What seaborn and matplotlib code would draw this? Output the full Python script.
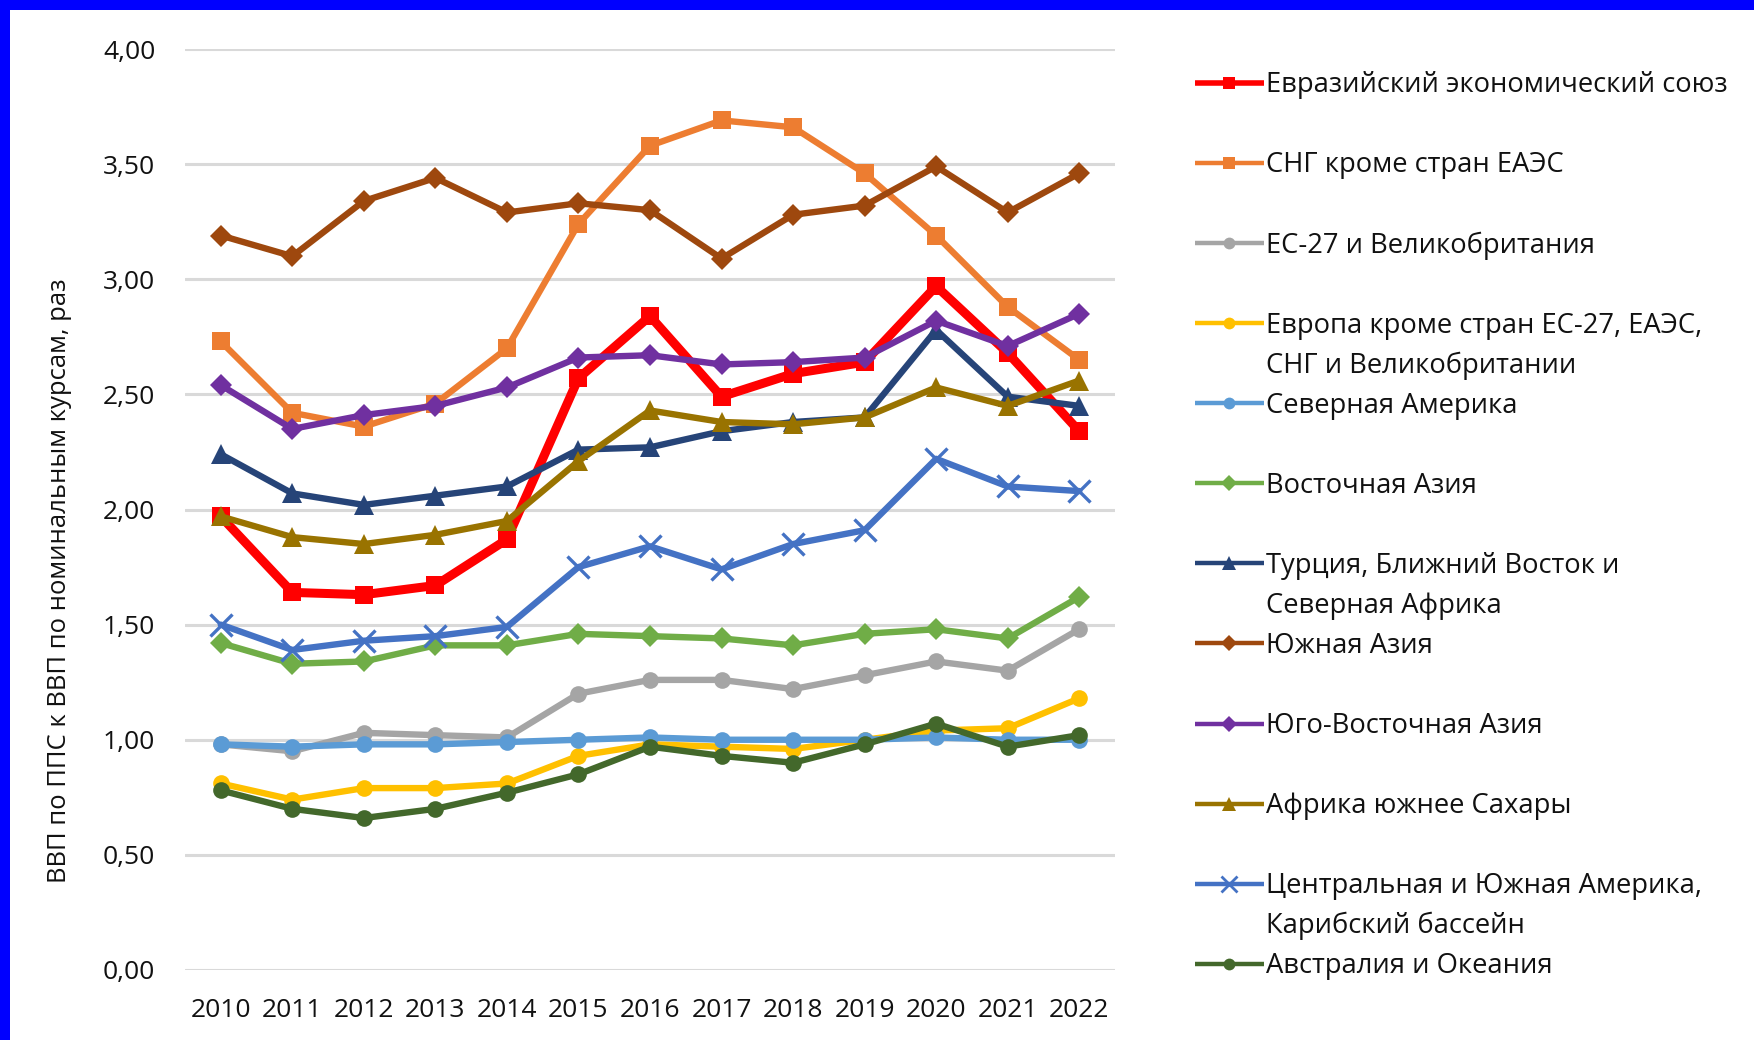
import matplotlib
matplotlib.use("Agg")
import matplotlib.pyplot as plt
import matplotlib.ticker as mticker
from matplotlib.patches import Rectangle
import seaborn as sns
import pandas as pd

# ---- data -------------------------------------------------------------
years = list(range(2010, 2023))

regions = [
    "Евразийский экономический союз",
    "СНГ кроме стран ЕАЭС",
    "ЕС-27 и Великобритания",
    "Европа кроме стран ЕС-27, ЕАЭС,\nСНГ и Великобритании",
    "Северная Америка",
    "Восточная Азия",
    "Турция, Ближний Восток и\nСеверная Африка",
    "Южная Азия",
    "Юго-Восточная Азия",
    "Африка южнее Сахары",
    "Центральная и Южная Америка,\nКарибский бассейн",
    "Австралия и Океания",
]

eaeu = [1.97, 1.64, 1.63, 1.67, 1.87, 2.57, 2.84, 2.49, 2.59, 2.64, 2.97, 2.68, 2.34]
cis_other = [2.73, 2.42, 2.36, 2.46, 2.70, 3.24, 3.58, 3.69, 3.66, 3.46, 3.19, 2.88, 2.65]
eu_uk = [0.98, 0.95, 1.03, 1.02, 1.01, 1.20, 1.26, 1.26, 1.22, 1.28, 1.34, 1.30, 1.48]
europe_other = [0.81, 0.74, 0.79, 0.79, 0.81, 0.93, 0.98, 0.97, 0.96, 1.00, 1.04, 1.05, 1.18]
north_america = [0.98, 0.97, 0.98, 0.98, 0.99, 1.00, 1.01, 1.00, 1.00, 1.00, 1.01, 1.00, 1.00]
east_asia = [1.42, 1.33, 1.34, 1.41, 1.41, 1.46, 1.45, 1.44, 1.41, 1.46, 1.48, 1.44, 1.62]
mena = [2.24, 2.07, 2.02, 2.06, 2.10, 2.26, 2.27, 2.34, 2.38, 2.40, 2.78, 2.49, 2.45]
south_asia = [3.19, 3.10, 3.34, 3.44, 3.29, 3.33, 3.30, 3.09, 3.28, 3.32, 3.49, 3.29, 3.46]
se_asia = [2.54, 2.35, 2.41, 2.45, 2.53, 2.66, 2.67, 2.63, 2.64, 2.66, 2.82, 2.71, 2.85]
africa_ss = [1.97, 1.88, 1.85, 1.89, 1.95, 2.21, 2.43, 2.38, 2.37, 2.40, 2.53, 2.45, 2.56]
latam = [1.50, 1.39, 1.43, 1.45, 1.49, 1.75, 1.84, 1.74, 1.85, 1.91, 2.22, 2.10, 2.08]
oceania = [0.78, 0.70, 0.66, 0.70, 0.77, 0.85, 0.97, 0.93, 0.90, 0.98, 1.07, 0.97, 1.02]

series_values = [eaeu, cis_other, eu_uk, europe_other, north_america, east_asia,
                 mena, south_asia, se_asia, africa_ss, latam, oceania]

y_ticks = [0, 0.5, 1.0, 1.5, 2.0, 2.5, 3.0, 3.5, 4.0]
y_label = "ВВП по ППС к ВВП по номинальным курсам, раз"

# ---- styles -----------------------------------------------------------
colors = ["#FF0000", "#ED7D31", "#A5A5A5", "#FFC000", "#5B9BD5", "#70AD47",
          "#264478", "#9E480E", "#7030A0", "#997300", "#4472C4", "#43682B"]
markers = ["s", "s", "o", "o", "o", "D", "^", "D", "D", "^", "x", "o"]
msizes = [12.5, 12.5, 12, 12, 12, 11.5, 14, 11.5, 11.5, 14, 16, 12]
lwidths = [6.5, 4.6, 4.6, 4.6, 4.6, 4.6, 4.6, 4.6, 4.6, 4.6, 4.6, 4.6]
# legend handles are drawn smaller than the plotted markers
leg_msizes = [9, 9, 8.5, 8.5, 8.5, 8, 10, 8, 8, 10, 11, 8.5]
leg_lwidths = [4.0, 3.2, 3.2, 3.2, 3.2, 3.2, 3.2, 3.2, 3.2, 3.2, 3.2, 3.2]

df = pd.DataFrame(
    [(r, y, v) for r, vals in zip(regions, series_values) for y, v in zip(years, vals)],
    columns=["region", "year", "value"],
)

sns.set_theme(style="white")
plt.rcParams["font.family"] = ["Open Sans", "DejaVu Sans"]
TEXT = "#111111"

W, H = 1754, 1040
fig = plt.figure(figsize=(W / 100, H / 100), dpi=100, facecolor="white")

# blue band on top and left edges of the picture
fig.patches.append(Rectangle((0, 1 - 10 / H), 1, 10 / H, transform=fig.transFigure,
                             facecolor="#0000FF", edgecolor="none", zorder=-5))
fig.patches.append(Rectangle((0, 0), 10 / W, 1, transform=fig.transFigure,
                             facecolor="#0000FF", edgecolor="none", zorder=-5))

ax = fig.add_axes([185 / W, (H - 970) / H, 930 / W, 921 / H])
ax.set_facecolor("none")

for i, reg in enumerate(regions):
    sub = df[df["region"] == reg]
    mk = markers[i]
    kw = dict(markeredgewidth=2.4) if mk == "x" else dict(markeredgewidth=0)
    sns.lineplot(data=sub, x="year", y="value", ax=ax, color=colors[i],
                 linewidth=lwidths[i], marker=mk, markersize=msizes[i],
                 markeredgecolor=colors[i], legend=False, zorder=3 + i, **kw)

ax.set_xlim(2009.5, 2022.5)
ax.set_ylim(0, 4)
ax.set_xticks(years)
ax.set_yticks(y_ticks)
ax.yaxis.set_major_formatter(mticker.FuncFormatter(lambda v, p: f"{v:.2f}".replace(".", ",")))
ax.grid(axis="y", color="#D9D9D9", linewidth=2.2, zorder=0)
ax.grid(axis="x", visible=False)
for s in ax.spines.values():
    s.set_visible(False)
ax.tick_params(axis="both", length=0, labelsize=19, colors=TEXT)
ax.tick_params(axis="y", pad=21.5)
ax.tick_params(axis="x", pad=20)
ax.set_xlabel("")
ax.set_ylabel("")

ylab = fig.text(60 / W, 1 - 581 / H, y_label, rotation=90, ha="center", va="center",
                fontsize=16, color=TEXT)

# ---- legend drawn in a pixel-space overlay ------------------------------
lax = fig.add_axes([0, 0, 1, 1])
lax.set_xlim(0, W)
lax.set_ylim(H, 0)
lax.axis("off")

slot0, slot_step = 82.8, 80.1
x0, x1, xm, xt = 1195, 1264, 1229, 1266
LINESPACING = 1.55
leg_texts = []
for i, reg in enumerate(regions):
    yy = slot0 + i * slot_step
    lax.plot([x0, x1], [yy, yy], color=colors[i], linewidth=leg_lwidths[i],
             solid_capstyle="butt")
    mk = markers[i]
    kw = dict(markeredgewidth=2.0) if mk == "x" else dict(markeredgewidth=0)
    lax.plot([xm], [yy], marker=mk, markersize=leg_msizes[i], color=colors[i],
             markeredgecolor=colors[i], linestyle="none", **kw)
    leg_texts.append(lax.text(xt, yy, reg, ha="left", va="baseline", fontsize=19,
                              color=TEXT, linespacing=LINESPACING))

# size the text blocks to their intended extents (pixels)
fig.canvas.draw()
rend = fig.canvas.get_renderer()
scale = 604 / ylab.get_window_extent(rend).height
ylab.set_fontsize(ylab.get_fontsize() * scale)
scale = 462 / leg_texts[0].get_window_extent(rend).width
for t in leg_texts:
    t.set_fontsize(t.get_fontsize() * scale)

# distance between consecutive lines of a wrapped label
fig.canvas.draw()
h1 = leg_texts[0].get_window_extent(rend).height
h2 = leg_texts[3].get_window_extent(rend).height
line_step = h2 - h1

# put the first line of every legend label on the handle's centre line
for i, t in enumerate(leg_texts):
    yy = slot0 + i * slot_step
    n_extra = t.get_text().count("\n")
    t.set_y(yy + 9.5 + n_extra * line_step)

fig.savefig("out.png", dpi=100, facecolor="white")
